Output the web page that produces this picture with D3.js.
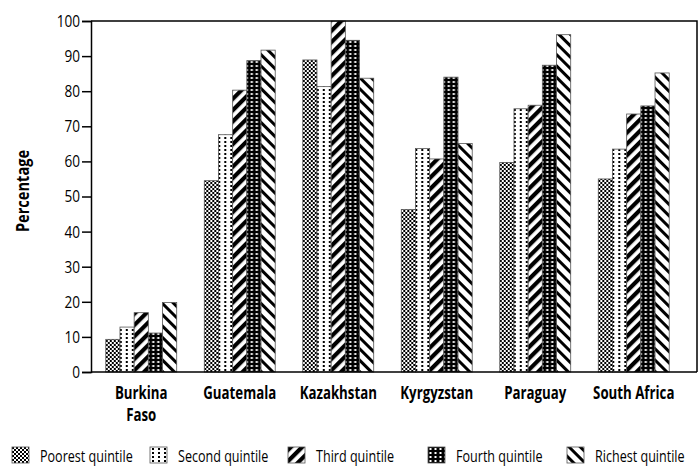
<!DOCTYPE html>
<html>
<head>
<meta charset="utf-8">
<script src="https://cdn.jsdelivr.net/npm/d3@7"></script>
<style>
  body { margin: 0; background: #fff; }
  text { font-family: "Open Sans", sans-serif; fill: #000; }
</style>
</head>
<body>
<div id="chart"></div>
<script>
const countries = ["Burkina Faso", "Guatemala", "Kazakhstan", "Kyrgyzstan", "Paraguay", "South Africa"];
const quintiles = ["Poorest quintile", "Second quintile", "Third quintile", "Fourth quintile", "Richest quintile"];
const poorest = [9.3, 54.5, 88.9, 46.3, 59.7, 55.0];
const second  = [12.8, 67.6, 81.3, 63.7, 75.0, 63.5];
const third   = [16.9, 80.3, 100, 60.7, 76.0, 73.5];
const fourth  = [11.1, 88.7, 94.5, 84.0, 87.4, 75.8];
const richest = [19.8, 91.7, 83.7, 65.1, 96.1, 85.2];
const yTicks = [0, 10, 20, 30, 40, 50, 60, 70, 80, 90, 100];

const series = [poorest, second, third, fourth, richest];
const patternIds = ["p-check", "p-dots", "p-diag", "p-grid", "p-back"];

const W = 699, H = 468;
const plotLeft = 91, plotRight = 697, plotTop = 21, plotBottom = 372;

const svg = d3.select("#chart").append("svg")
    .attr("width", W)
    .attr("height", H);

// fill patterns
const defs = svg.append("defs");

let p = defs.append("pattern").attr("id", "p-check").attr("patternUnits", "userSpaceOnUse")
    .attr("width", 4).attr("height", 4);
p.append("rect").attr("width", 4).attr("height", 4).attr("fill", "#fff");
p.append("rect").attr("width", 2).attr("height", 2).attr("fill", "#000");
p.append("rect").attr("x", 2).attr("y", 2).attr("width", 2).attr("height", 2).attr("fill", "#000");

p = defs.append("pattern").attr("id", "p-dots").attr("patternUnits", "userSpaceOnUse")
    .attr("width", 6).attr("height", 4);
p.append("rect").attr("width", 6).attr("height", 4).attr("fill", "#fff");
p.append("rect").attr("x", 2).attr("y", 1).attr("width", 2).attr("height", 2).attr("fill", "#000");

p = defs.append("pattern").attr("id", "p-diag").attr("patternUnits", "userSpaceOnUse")
    .attr("width", 8).attr("height", 8).attr("patternTransform", "rotate(45)");
p.append("rect").attr("width", 8).attr("height", 8).attr("fill", "#fff");
p.append("rect").attr("width", 4.2).attr("height", 8).attr("fill", "#000");

p = defs.append("pattern").attr("id", "p-grid").attr("patternUnits", "userSpaceOnUse")
    .attr("width", 5).attr("height", 4);
p.append("rect").attr("width", 5).attr("height", 4).attr("fill", "#000");
p.append("rect").attr("x", 1.5).attr("y", 1).attr("width", 2).attr("height", 2).attr("fill", "#fff");

p = defs.append("pattern").attr("id", "p-back").attr("patternUnits", "userSpaceOnUse")
    .attr("width", 8).attr("height", 8).attr("patternTransform", "rotate(-45)");
p.append("rect").attr("width", 8).attr("height", 8).attr("fill", "#fff");
p.append("rect").attr("width", 3).attr("height", 8).attr("fill", "#000");

const x = d3.scaleBand()
    .domain(countries)
    .range([92, 683])
    .paddingInner(0.28)
    .paddingOuter(0.14);

const xq = d3.scaleBand()
    .domain(quintiles)
    .range([0, x.bandwidth()]);

const y = d3.scaleLinear()
    .domain([0, 100])
    .range([plotBottom, plotTop]);

// bars
const groups = svg.append("g").selectAll("g")
    .data(countries)
    .join("g")
    .attr("transform", d => "translate(" + x(d) + ",0)");

groups.selectAll("rect")
    .data((c, i) => series.map((s, k) => ({ q: quintiles[k], k: k, v: s[i] })))
    .join("rect")
    .attr("x", d => xq(d.q))
    .attr("y", d => y(d.v))
    .attr("width", xq.bandwidth())
    .attr("height", d => plotBottom - y(d.v))
    .attr("fill", d => "url(#" + patternIds[d.k] + ")")
    .attr("stroke", "#555")
    .attr("stroke-width", 0.8);

// frame
svg.append("path")
    .attr("d", "M" + plotLeft + "," + plotTop + "H" + plotRight + "V" + plotBottom)
    .attr("fill", "none")
    .attr("stroke", "#000")
    .attr("stroke-width", 1.5);

// y axis
const yAxis = svg.append("g")
    .attr("transform", "translate(" + plotLeft + ",0)")
    .call(d3.axisLeft(y).tickValues(yTicks).tickSize(9).tickPadding(2));
yAxis.select(".domain").attr("stroke-width", 1.5);
yAxis.selectAll(".tick line").attr("stroke-width", 1.5);
yAxis.selectAll("text")
    .attr("font-size", 17)
    .attr("font-family", null)
    .attr("x", null)
    .attr("transform", "translate(-11,0) scale(0.8,1)");

// x axis baseline
svg.append("line")
    .attr("x1", plotLeft).attr("x2", plotRight)
    .attr("y1", plotBottom).attr("y2", plotBottom)
    .attr("stroke", "#000")
    .attr("stroke-width", 1.5);

// country labels
const xl = svg.append("g").selectAll("text")
    .data(countries)
    .join("text")
    .attr("transform", d => "translate(" + (x(d) + x.bandwidth() / 2) + ",399) scale(0.78,1)")
    .attr("text-anchor", "middle")
    .attr("font-size", 17)
    .attr("font-weight", "bold");
xl.each(function(d) {
    const t = d3.select(this);
    const parts = d === "Burkina Faso" ? ["Burkina", "Faso"] : [d];
    parts.forEach((s, i) => {
        t.append("tspan")
            .attr("x", 0)
            .attr("dy", i === 0 ? 0 : 22)
            .text(s);
    });
});

// y title
svg.append("text")
    .attr("transform", "translate(29,191) rotate(-90) scale(0.86,1)")
    .attr("text-anchor", "middle")
    .attr("font-size", 17)
    .attr("font-weight", "bold")
    .text("Percentage");

// legend
const legendX = [12, 150, 288, 428, 567];
const lg = svg.append("g").selectAll("g")
    .data(quintiles)
    .join("g")
    .attr("transform", (d, i) => "translate(" + legendX[i] + ",447)");
lg.append("rect")
    .attr("width", 17)
    .attr("height", 16)
    .attr("fill", (d, i) => "url(#" + patternIds[i] + ")")
    .attr("stroke", "#555")
    .attr("stroke-width", 0.8);
lg.append("text")
    .attr("transform", "translate(28,15) scale(0.74,1)")
    .attr("font-size", 17)
    .text(d => d);
</script>
</body>
</html>
